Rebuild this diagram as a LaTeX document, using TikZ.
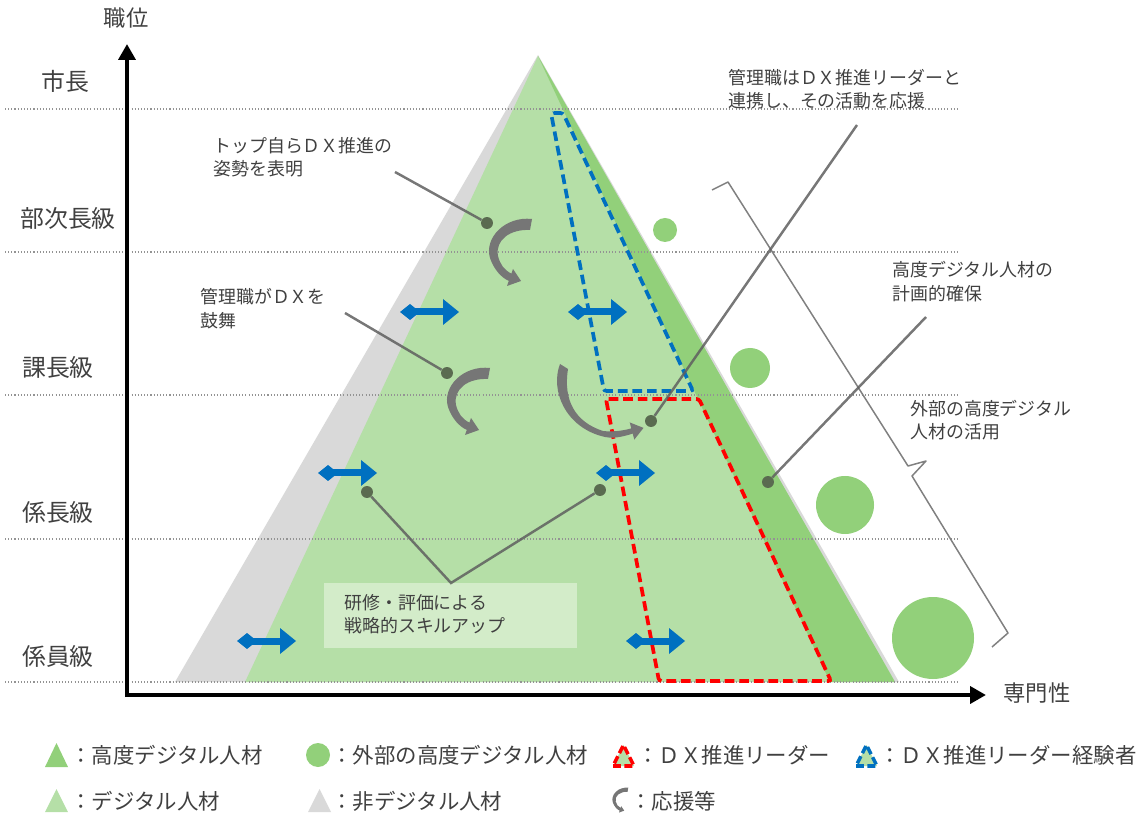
\documentclass[tikz,border=0pt]{standalone}
\usepackage{fontspec}
\setmainfont{Noto Sans CJK JP}
\usetikzlibrary{arrows.meta}
\definecolor{txt}{HTML}{404040}
\definecolor{lgreen}{HTML}{B5DFA7}
\definecolor{dgreen}{HTML}{92D07A}
\definecolor{ngray}{HTML}{D9D9D9}
\definecolor{dxblue}{HTML}{0070C0}
\definecolor{dxred}{HTML}{FF0000}
\definecolor{boxfill}{HTML}{D3ECC9}
\definecolor{calline}{HTML}{5F5F5F}
\definecolor{caldot}{HTML}{5A6B50}
\definecolor{suparrow}{HTML}{767676}
\newcommand\suppApath{(532,219) .. controls (505,216) and (484,238) .. (490,258) .. controls (494,270) and (502,278) .. (508.8,280.9) -- (507,286) -- (521,281) -- (513,269) -- (511.4,273.6) .. controls (504,270) and (500,264) .. (498,256) .. controls (495,240) and (510,229) .. (530,230) -- cycle}
\tikzset{
  pics/dxarrow/.style={code={
    \fill[dxblue] (0,0) -- (10,-8) -- (20,0) -- (10,8) -- cycle;
    \fill[dxblue] (15,-3.5) rectangle (44,3.5);
    \fill[dxblue] (43,-13) -- (59,0) -- (43,13) -- cycle;
  }}
}
\begin{document}
\begin{tikzpicture}[x=0.02cm,y=-0.02cm,
  every node/.style={text=txt, inner sep=0pt},
  lbl/.style={font=\fontsize{10.2}{13.3}\selectfont, align=left, anchor=west},
  lvl/.style={font=\fontsize{13.6}{16}\selectfont},
  axlbl/.style={font=\fontsize{12.7}{15}\selectfont},
  leg/.style={font=\fontsize{12.2}{15}\selectfont, anchor=west},
  gridline/.style={draw=gray!85, line width=0.6pt, dash pattern=on 0.6pt off 1.2pt},
  callout/.style={draw=calline, draw opacity=0.85, line width=1.4pt},
  dotnode/.style={circle, fill=caldot, minimum size=6.8pt, inner sep=0pt},
  bluedash/.style={draw=dxblue, line width=2.1pt, dash pattern=on 5.5pt off 2.8pt},
  reddash/.style={draw=dxred, line width=2.1pt, dash pattern=on 5.5pt off 2.8pt},
  bracestyle/.style={draw=gray, line width=0.85pt, line join=round},
]
\useasboundingbox (0,0) rectangle (1145,813);

% triangles
\fill[ngray] (538,55) -- (175,682) -- (899,682) -- cycle;
\fill[lgreen] (538,56) -- (245,682) -- (895,682) -- cycle;
\fill[dgreen] (538,56) -- (830,682) -- (895,682) -- cycle;

% grid lines
\foreach \yy in {109,252,395,539,682} \draw[gridline] (5,\yy) -- (958,\yy);

% external circles
\fill[dgreen] (665,230) circle[radius=12];
\fill[dgreen] (750,368) circle[radius=20];
\fill[dgreen] (845,505) circle[radius=29];
\fill[dgreen] (933,638) circle[radius=41];

% DX leader areas
\draw[bluedash, rounded corners=1.5pt] (551,113) -- (563,113) -- (693,391) -- (604,391) -- cycle;
\draw[reddash, rounded corners=1.5pt] (606,399) -- (699,399) -- (831,681) -- (659,681) -- cycle;

% axes
\coordinate (origin) at (127,697);
\coordinate (ytip) at (127,44);
\coordinate (xorig) at (125,695);
\coordinate (xtip) at (986,695);
\draw[line width=2.3pt, -{Triangle[length=9pt,width=9.5pt]}] (origin) -- (ytip);
\draw[line width=2.3pt, -{Triangle[length=9pt,width=9.5pt]}] (xorig) -- (xtip);

% brace
\draw[bracestyle] (712,190) -- (728,182) -- (908,466) -- (926,461) -- (912,476) -- (1008,633) -- (992,647);

% training box
\node[rectangle, fill=boxfill, minimum width=144pt, minimum height=36.8pt, anchor=north west] (box) at (324,583) {};
\node[lbl] (boxtxt) at (344,614.5) {研修・評価による\\戦略的スキルアップ};

% support arrows
\fill[suparrow] \suppApath;
\begin{scope}[shift={(-42,149)}]
\fill[suparrow] \suppApath;
\end{scope}
\fill[suparrow] (560,364) .. controls (550,390) and (565,428) .. (605,437) .. controls (615,439) and (625,436) .. (632.7,433.6) -- (634.3,439.6) -- (643.5,427.9) -- (629.7,422.4) -- (631.3,428.4) .. controls (622,431) and (612,432) .. (603,431) .. controls (575,422) and (563,400) .. (568,369) -- cycle;

% blue double arrows
\pic at (400,312) {dxarrow};
\pic at (568,312) {dxarrow};
\pic at (318,473) {dxarrow};
\pic at (596,473) {dxarrow};
\pic at (237,641) {dxarrow};
\pic at (626,641) {dxarrow};

% callouts
\node[dotnode] (d1) at (487,223) {};
\node[dotnode] (d2) at (447,373) {};
\node[dotnode] (d3) at (651,421) {};
\node[dotnode] (d4) at (768,482) {};
\node[dotnode] (d5) at (367,492) {};
\node[dotnode] (d6) at (600,490) {};
\coordinate (c1) at (395,172);
\coordinate (c2) at (345,313);
\coordinate (c3) at (857,125);
\coordinate (c4) at (926,317);
\coordinate (cv) at (451,583);
\draw[callout] (c1) -- (d1);
\draw[callout] (c2) -- (d2);
\draw[callout] (c3) -- (d3);
\draw[callout] (c4) -- (d4);
\draw[callout] (d5) -- (cv) -- (d6);

% labels
\node[axlbl] (ylab) at (126,18) {職位};
\node[axlbl] (xlab) at (1037,693) {専門性};
\node[lvl] (lv1) at (65,81) {市長};
\node[lvl] (lv2) at (68,218) {部次長級};
\node[lvl] (lv3) at (58,367) {課長級};
\node[lvl] (lv4) at (58,512) {係長級};
\node[lvl] (lv5) at (58,656) {係員級};

\node[lbl] (t1) at (213,157.5) {トップ自らＤＸ推進の\\姿勢を表明};
\node[lbl] (t2) at (200,308.5) {管理職がＤＸを\\鼓舞};
\node[lbl] (t3) at (728,89) {管理職はＤＸ推進リーダーと\\連携し、その活動を応援};
\node[lbl] (t4) at (892,281.5) {高度デジタル人材の\\計画的確保};
\node[lbl] (t5) at (910,420) {外部の高度デジタル\\人材の活用};

% legend
\fill[dgreen] (45,767) -- (68,767) -- (56.5,743) -- cycle;
\node[leg] (g1) at (70,755) {：高度デジタル人材};
\fill[dgreen] (318,755) circle[radius=12];
\node[leg] (g2) at (331,755) {：外部の高度デジタル人材};
\draw[reddash, fill=lgreen, line width=2pt, dash pattern=on 4.5pt off 2pt] (613,766) -- (634,766) -- (623.5,745) -- cycle;
\node[leg] (g3) at (637,755) {：ＤＸ推進リーダー};
\draw[bluedash, fill=lgreen, line width=2pt, dash pattern=on 4.5pt off 2pt] (856,766) -- (877,766) -- (866.5,745) -- cycle;
\node[leg] (g4) at (879,755) {：ＤＸ推進リーダー経験者};
\fill[lgreen] (45,812) -- (68,812) -- (56.5,789) -- cycle;
\node[leg] (g5) at (70,801) {：デジタル人材};
\fill[ngray] (308,812) -- (331,812) -- (319.5,789) -- cycle;
\node[leg] (g6) at (331,801) {：非デジタル人材};
\begin{scope}[shift={(612,787)}, scale=0.37, shift={(-488,-217)}]
\fill[suparrow] \suppApath;
\end{scope}
\node[leg] (g7) at (630,801) {：応援等};
\end{tikzpicture}
\end{document}
